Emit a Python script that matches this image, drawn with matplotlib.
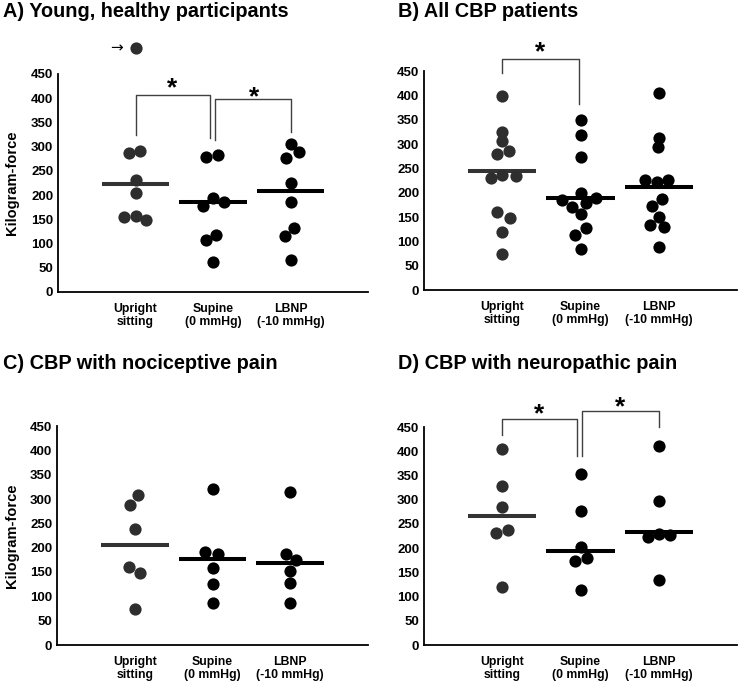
import matplotlib
matplotlib.use("Agg")
import matplotlib.pyplot as plt
import numpy as np

plt.rcParams['font.family'] = ['Liberation Sans', 'DejaVu Sans']
plt.rcParams['font.weight'] = 'bold'

conds = ['Upright\nsitting', 'Supine\n(0 mmHg)', 'LBNP\n(-10 mmHg)']

# A) young, healthy
a_up = [286, 291, 231, 205, 155, 157, 148, 503]
a_up_dx = [-0.085, 0.064, 0, 0, -0.15, 0, 0.137, 0]
a_sup = [279, 283, 194, 177, 185, 107, 117, 62]
a_sup_dx = [-0.085, 0.064, 0, -0.128, 0.137, -0.094, 0.043, 0]
a_lb = [305, 276, 288, 225, 186, 116, 132, 67]
a_lb_dx = [0, -0.064, 0.115, 0, 0, -0.068, 0.043, 0]
a_mean = [222, 185, 209]

# B) all CBP
b_up = [399, 324, 306, 280, 286, 237, 230, 235, 160, 147, 120, 75]
b_up_dx = [0, 0, 0, -0.073, 0.085, 0, -0.15, 0.17, -0.064, 0.098, 0, 0]
b_sup = [349, 319, 274, 200, 185, 171, 179, 190, 157, 127, 112, 85]
b_sup_dx = [0, 0, 0, 0, -0.235, -0.115, 0.073, 0.2, 0, 0.064, -0.073, 0]
b_lb = [405, 313, 294, 226, 222, 227, 187, 172, 150, 133, 129, 88]
b_lb_dx = [0, 0, -0.013, -0.17, -0.026, 0.124, 0.043, -0.085, 0, -0.107, 0.073, 0]
b_mean = [245, 189, 211]

# C) nociceptive
c_up = [308, 288, 239, 160, 147, 75]
c_up_dx = [0.042, -0.055, 0, -0.072, 0.072, 0]
c_sup = [321, 192, 187, 158, 126, 86]
c_sup_dx = [0, -0.093, 0.068, 0, 0, 0]
c_lb = [314, 188, 175, 152, 128, 86]
c_lb_dx = [0, -0.055, 0.072, 0, 0, 0]
c_mean = [205, 177, 168]

# D) neuropathic
d_up = [404, 328, 284, 232, 237, 120]
d_up_dx = [0, 0, 0, -0.076, 0.072, 0]
d_sup = [352, 277, 203, 174, 179, 113]
d_sup_dx = [0, 0, 0, -0.076, 0.084, 0]
d_lb = [410, 297, 230, 222, 227, 135]
d_lb_dx = [0, 0, 0, -0.135, 0.148, 0]
d_mean = [266, 194, 234]

# significance brackets: x1, x2, y1, ytop, y2, star x, star y
a_sig = [(1.0, 1.96, 324, 407, 317, 1.47, 421),
         (2.02, 3.0, 314, 398, 331, 2.53, 402)]
b_sig = [(1.0, 1.98, 445, 475, 383, 1.49, 488)]
c_sig = []
d_sig = [(1.0, 1.96, 433, 466, 391, 1.47, 476),
         (2.02, 3.0, 391, 483, 450, 2.51, 490)]

panels = [
    ('A) Young, healthy participants', [a_up, a_sup, a_lb], [a_up_dx, a_sup_dx, a_lb_dx], a_mean, a_sig, True),
    ('B) All CBP patients', [b_up, b_sup, b_lb], [b_up_dx, b_sup_dx, b_lb_dx], b_mean, b_sig, False),
    ('C) CBP with nociceptive pain', [c_up, c_sup, c_lb], [c_up_dx, c_sup_dx, c_lb_dx], c_mean, c_sig, True),
    ('D) CBP with neuropathic pain', [d_up, d_sup, d_lb], [d_up_dx, d_sup_dx, d_lb_dx], d_mean, d_sig, False),
]

W, H = 739, 683
fig = plt.figure(figsize=(W / 100, H / 100), dpi=100)

# axes boxes in pixels: left, top(450), right, bottom(0)
boxes = [(58, 74, 368, 292), (424, 71, 737, 290),
         (57, 426, 368, 645), (424, 427, 737, 645)]
title_pos = [(3, 17), (398, 17), (3, 369), (398, 369)]

dot_cols = ['#2e2e2e', 'black', 'black']
bar_cols = ['#333333', 'black', 'black']

for k, (title, groups, dxs, means, sigs, ylab) in enumerate(panels):
    l, t, r, b = boxes[k]
    ax = fig.add_axes([l / W, 1 - b / H, (r - l) / W, (b - t) / H])
    for i in range(3):
        x0 = i + 1
        ax.plot([x0 - 0.435, x0 + 0.435], [means[i], means[i]], color=bar_cols[i],
                lw=2.9, solid_capstyle='butt', zorder=2)
        xs = x0 + np.array(dxs[i])
        ax.plot(xs, groups[i], 'o', ms=8.8, color=dot_cols[i], mec='none',
                zorder=3, clip_on=False)
    for (x1, x2, y1, yt, y2, sx, sy) in sigs:
        ax.plot([x1, x1, x2, x2], [y1, yt, yt, y2], color='#404040', lw=1,
                clip_on=False, zorder=1)
        ax.text(sx, sy, '*', ha='center', va='center', fontsize=19,
                fontweight='bold', clip_on=False)
    if k == 0:
        ax.text(0.76, 503, '\u2192', ha='center', va='center', fontsize=11,
                family=['DejaVu Sans'], fontweight='normal', clip_on=False)
    ax.set_xlim(0, 4)
    ax.set_ylim(0, 450)
    ax.set_yticks(np.arange(0, 451, 50))
    ax.set_xticks([1, 2, 3])
    ax.set_xticklabels(conds, fontsize=8.8, fontweight='bold', linespacing=1.05)
    ax.tick_params(axis='both', length=0)
    ax.tick_params(axis='y', labelsize=9.5, pad=3.5)
    ax.tick_params(axis='x', pad=8)
    for lab in ax.get_yticklabels():
        lab.set_fontweight('bold')
    for s in ['top', 'right']:
        ax.spines[s].set_visible(False)
    for s in ['left', 'bottom']:
        ax.spines[s].set_linewidth(1.3)
    tx, ty = title_pos[k]
    fig.text(tx / W, 1 - ty / H, title, fontsize=14.3, fontweight='bold',
             ha='left', va='baseline')
    if ylab:
        fig.text(12 / W, 1 - (t + b) / 2 / H, 'Kilogram-force', rotation=90,
                 fontsize=10.5, fontweight='bold', ha='center', va='center')

fig.savefig('out.png', dpi=100)
